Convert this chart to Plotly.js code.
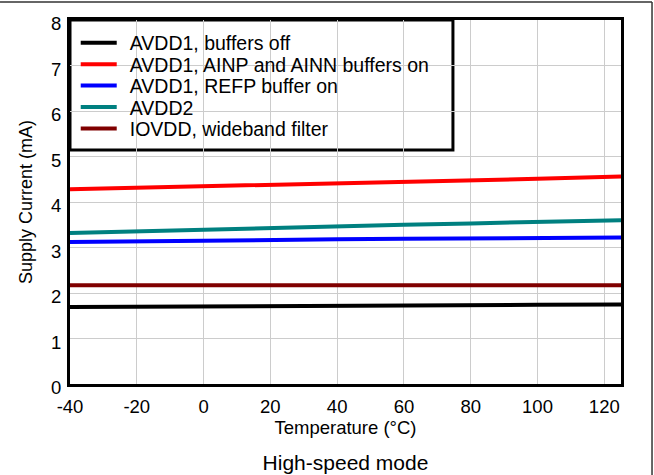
<!DOCTYPE html>
<html>
<head>
<meta charset="utf-8">
<script src="https://cdn.plot.ly/plotly-3.0.1.min.js"></script>
<style>
html,body{margin:0;padding:0;background:#fff;}
#chart{width:654px;height:475px;}
</style>
</head>
<body>
<div id="chart"></div>
<script>
const temperature = [-40, -20, 0, 20, 40, 60, 80, 100, 125];
const avdd1BuffersOff = [1.69, 1.70, 1.70, 1.71, 1.72, 1.72, 1.73, 1.74, 1.75];
const avdd1AinBuffersOn = [4.28, 4.31, 4.35, 4.38, 4.41, 4.44, 4.48, 4.51, 4.56];
const avdd1RefpBufferOn = [3.12, 3.14, 3.15, 3.17, 3.18, 3.19, 3.20, 3.21, 3.22];
const avdd2 = [3.32, 3.36, 3.40, 3.44, 3.47, 3.50, 3.53, 3.56, 3.60];
const iovddWideband = [2.17, 2.17, 2.16, 2.16, 2.16, 2.16, 2.16, 2.17, 2.17];
const seriesNames = ["AVDD1, buffers off", "AVDD1, AINP and AINN buffers on", "AVDD1, REFP buffer on", "AVDD2", "IOVDD, wideband filter"];
const xTicks = [-40, -20, 0, 20, 40, 60, 80, 100, 120];
const yTicks = [0, 1, 2, 3, 4, 5, 6, 7, 8];

const colors = ["#000000", "#ff0000", "#0000ff", "#008080", "#800000"];
const seriesData = [avdd1BuffersOff, avdd1AinBuffersOn, avdd1RefpBufferOn, avdd2, iovddWideband];
const FONT = "Liberation Sans, Arial, sans-serif";
const LEGEND_ROW = 21.4;

const traces = seriesData.map((ys, i) => ({
  x: temperature, y: ys, name: seriesNames[i], type: "scatter", mode: "lines",
  line: {color: colors[i], width: 4}
}));

const layout = {
  width: 654, height: 475,
  margin: {l: 70, r: 33, t: 20, b: 91},
  paper_bgcolor: "#fff", plot_bgcolor: "#fff",
  font: {family: FONT, size: 18.5, color: "#000"},
  showlegend: true,
  legend: {x: 0.0104, y: 0.99, xanchor: "left", yanchor: "top", bgcolor: "rgba(0,0,0,0)", borderwidth: 0,
           itemwidth: 44, font: {family: FONT, size: 19.5, color: "#000"}, tracegroupgap: 0},
  title: {text: "High-speed mode", font: {family: FONT, size: 21, color: "#000"}, x: 0.5, xref: "paper", y: 0.025, yref: "container", yanchor: "middle"},
  xaxis: {range: [-40, 125], tickvals: xTicks, ticktext: xTicks.map(String), ticks: "", showgrid: true, gridcolor: "#cccccc", gridwidth: 1,
          zeroline: false, showline: true, linecolor: "#000", linewidth: 3, mirror: true, ticklabelstandoff: 4,
          tickfont: {family: FONT, size: 18.5, color: "#000"},
          title: {text: "Temperature (°C)", font: {family: FONT, size: 18.5, color: "#000"}, standoff: 0}},
  yaxis: {range: [0, 8], tickvals: yTicks, ticktext: yTicks.map(String), ticks: "", showgrid: true, gridcolor: "#cccccc", gridwidth: 1,
          zeroline: false, showline: true, linecolor: "#000", linewidth: 3, mirror: true, ticklabelstandoff: 2, ticklabelshift: 4,
          tickfont: {family: FONT, size: 18.5, color: "#000"},
          title: {text: "Supply Current (mA)", font: {family: FONT, size: 18, color: "#000"}, standoff: 14}},
  shapes: [
    {type: "rect", xref: "paper", yref: "paper", x0: 0, x1: 0.695, y0: 0.643, y1: 1, fillcolor: "#fff", line: {color: "#000", width: 3}, layer: "between"},
    {type: "line", xref: "paper", yref: "paper", x0: -0.127, x1: 1.0563, y0: 1.0495, y1: 1.0495, line: {color: "#333", width: 1.5}},
    {type: "line", xref: "paper", yref: "paper", x0: 1.0563, x1: 1.0563, y0: 1.0495, y1: -0.25, line: {color: "#333", width: 1.5}}
  ]
};

Plotly.newPlot("chart", traces, layout, {displayModeBar: false, staticPlot: true}).then(gd => {
  // tighten legend row spacing and lengthen legend line samples to match reference
  const items = gd.querySelectorAll(".legend .traces");
  let y0 = null;
  items.forEach((g, i) => {
    const m = /translate\(\s*([-\d.]+)[ ,]+([-\d.]+)\s*\)/.exec(g.getAttribute("transform") || "");
    if (!m) return;
    if (y0 === null) y0 = parseFloat(m[2]);
    g.setAttribute("transform", "translate(" + m[1] + "," + (y0 + i * LEGEND_ROW) + ")");
  });
  gd.querySelectorAll(".legend .legendlines path").forEach(p => p.setAttribute("d", "M5,0h36"));
});
</script>
</body>
</html>
